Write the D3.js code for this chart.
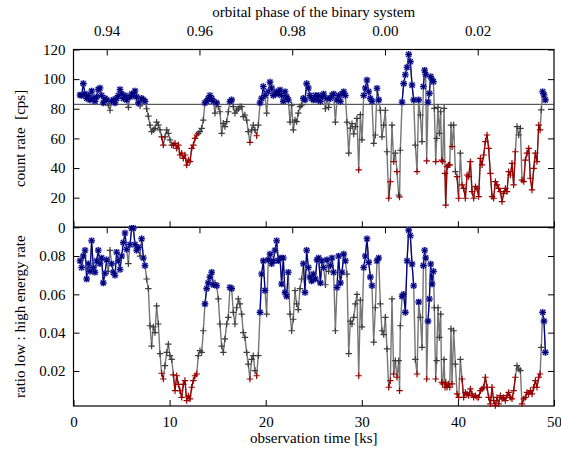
<!DOCTYPE html>
<html><head><meta charset="utf-8">
<script src="https://cdn.jsdelivr.net/npm/d3@7"></script>
<style>
body{margin:0;background:#fff}
svg{display:block;background:#fff}
text{font-family:"Liberation Serif","Times New Roman",serif;font-size:15px;fill:#000}
</style>
</head><body>
<svg id="c" width="561" height="452"></svg>
<script>
// ---- data (observation time [ks], count rate [cps], ratio low:high) ----
const times = [
0.68,0.85,1.02,1.20,1.37,1.54,1.72,1.89,2.06,2.24,2.41,2.58,2.76,2.93,3.10,3.28,3.45,3.62,3.80,3.97,4.14,4.32,4.49,4.67,4.84,5.01,5.19,5.36,5.53,5.71,5.88,6.05,6.23,6.40,6.57,6.75,6.92,7.09,7.27,7.44,
7.61,7.79,7.96,8.13,8.31,8.48,8.65,8.83,9.00,9.17,9.35,9.52,9.70,9.87,10.04,10.22,10.39,10.56,10.74,10.91,11.08,11.26,11.43,11.60,11.78,11.95,12.12,12.30,12.47,12.64,12.82,12.99,13.16,13.34,13.51,
13.68,13.86,14.03,14.20,14.38,14.55,14.72,14.90,15.07,15.24,15.42,15.59,15.76,15.94,16.11,16.28,16.46,16.63,16.80,16.98,17.15,17.32,17.50,17.67,17.84,18.02,18.19,18.36,18.54,18.71,18.88,19.06,19.23,19.41,
19.58,19.75,19.93,20.10,20.27,20.45,20.62,20.79,20.97,21.14,21.31,21.49,21.66,21.83,22.01,22.18,22.35,22.53,22.70,22.87,23.05,23.22,23.39,23.57,23.74,23.92,24.09,24.26,24.44,24.61,24.78,24.96,
25.17,25.34,25.51,25.69,25.86,26.03,26.21,26.38,26.55,26.73,26.90,27.07,27.25,27.42,27.59,27.77,27.94,28.12,28.29,28.46,
28.64,28.81,28.98,29.16,29.33,29.50,29.68,29.85,30.02,30.20,30.37,30.54,30.72,30.89,31.06,31.24,31.41,31.58,31.76,31.93,
32.10,32.28,32.45,32.62,32.80,32.97,33.14,33.32,33.49,33.66,33.84,33.93,34.01,34.19,34.36,34.53,34.71,34.88,35.05,35.23,
35.40,35.57,35.75,35.92,36.09,36.27,36.41,36.54,36.65,36.75,36.89,37.03,37.17,37.31,37.45,37.55,37.69,37.79,37.93,38.07,
38.21,38.31,38.42,38.56,38.66,38.73,38.87,39.01,39.15,39.28,39.39,39.56,39.74,39.91,40.08,40.26,40.43,40.60,40.78,40.95,
41.12,41.30,41.47,41.64,41.82,41.99,42.16,42.34,42.51,42.68,42.86,43.03,43.20,43.38,43.55,43.72,43.90,44.07,44.24,44.42,
44.59,44.76,44.94,45.11,45.28,45.46,45.63,45.80,45.98,46.15,46.33,46.50,46.67,46.85,47.02,47.19,47.37,47.54,47.71,47.89,
48.06,48.23,48.41,48.55,48.68,48.82,48.96,49.10
];
const rates = [
89.3,89,97,90,87,89,86,92,87,85,88,93,94,89,84,87,86,82.5,79,85,86,84,87,89,93,90,87,89,86,81,88,90,89,92,88,84,82,87,86,85,
80,75,69,64.6,65.7,66.8,71,69,65.7,61,55.5,61,65.7,63.4,59,55.5,55.5,56.7,53.3,55.5,48.8,50,46.5,48.8,42,45.4,44.3,53.3,55.5,60,62.3,63.4,64.6,66.8,72.4,
84,85,87,89,87,85,77,84,81.4,78,63.4,70.2,68,71.3,78,84.8,86,81.4,77,79,80,81.4,81.4,74.7,75.8,72.4,64.6,57.3,65.7,69,65.7,61.8,69,84,
87,95,89,77,91.5,98,94,89,90,91.5,90,92.7,89,85,91.5,88,86,71,82.5,65.7,72.4,71.3,77,81.4,82.5,87,86,97,94,89,87,86,
89,86,89,85,88,90,80,87,81,87,89,90,71,86,89,85,90,91.5,89,71,
50,67,70,63,68,73.5,38.7,76,59,89,94,99.4,91.5,87,85,56.7,62.3,93.8,86,79,
61,69,79,51,19.6,30.8,69,44.3,50,37.6,21.8,20.5,52,84.4,97,103,108,116.7,111.8,96,
86,55.5,37.6,86,75.8,57.8,95,106,103,44.8,84.4,90.4,101.7,99.4,98.3,80.3,44.3,60,81,63.4,
78,45.4,44.3,80.3,36.4,15,41,42,42.1,69,54.4,69,37.6,34.2,19.6,50,28.6,26.3,19.6,35.3,
34.2,44.3,24.1,19.6,27.4,26.3,20.7,46.5,42.1,48.8,57.8,62.3,53.3,36.4,20.7,19.6,30.8,28.6,26.3,24.1,
17.3,22.9,26.3,24.1,37.6,35.3,43.2,28.6,51,68,62.3,66.8,31.9,30.8,45.4,50,53.3,33.1,25.2,39.8,
50,44.3,69,65.7,79.2,91.5,89.3,86
];
const ratios = [
0.0775,0.074,0.080,0.083,0.068,0.076,0.072,0.088,0.074,0.0715,0.0775,0.083,0.076,0.079,0.066,0.071,0.078,0.072,0.083,0.076,0.0715,0.070,0.082,0.0775,0.073,0.080,0.087,0.092,0.0835,0.076,0.086,0.0945,0.0945,0.086,0.083,0.0845,0.080,0.089,0.079,0.075,
0.068,0.063,0.0436,0.033,0.043,0.040,0.054,0.0445,0.029,0.0188,0.0158,0.0228,0.0297,0.034,0.028,0.026,0.018,0.0097,0.0175,0.013,0.0097,0.0062,0.013,0.015,0.0045,0.007,0.0054,0.0115,0.015,0.0175,0.0184,0.028,0.0306,0.0297,0.041,
0.055,0.063,0.066,0.069,0.0715,0.065,0.066,0.0645,0.0576,0.0445,0.033,0.0297,0.0367,0.0445,0.048,0.0636,0.063,0.0506,0.0445,0.053,0.0576,0.055,0.0497,0.040,0.0375,0.0297,0.0236,0.0158,0.026,0.028,0.0202,0.0175,0.028,0.0506,
0.0706,0.0775,0.062,0.0497,0.078,0.081,0.076,0.0775,0.083,0.088,0.0775,0.079,0.0654,0.079,0.061,0.059,0.0715,0.0497,0.041,0.047,0.062,0.055,0.052,0.063,0.068,0.076,0.061,0.083,0.074,0.069,0.067,0.0706,
0.068,0.078,0.079,0.066,0.0775,0.074,0.065,0.078,0.072,0.075,0.079,0.0715,0.041,0.0636,0.080,0.066,0.0715,0.081,0.0775,0.0706,
0.029,0.046,0.0445,0.048,0.055,0.060,0.0175,0.057,0.043,0.074,0.080,0.089,0.0767,0.069,0.0645,0.035,0.053,0.0775,0.079,0.055,
0.041,0.039,0.048,0.0315,0.0115,0.015,0.0576,0.0184,0.0254,0.0167,0.0254,0.0097,0.0436,0.059,0.060,0.0506,0.0775,0.0935,0.0906,0.0758,
0.0645,0.026,0.0184,0.056,0.048,0.0323,0.075,0.083,0.079,0.0158,0.046,0.0576,0.0758,0.0654,0.072,0.053,0.0158,0.0254,0.053,0.0375,
0.0497,0.0141,0.0132,0.026,0.0115,0.0141,0.0115,0.0132,0.0115,0.042,0.0132,0.041,0.0236,0.008,0.0062,0.026,0.0158,0.0062,0.0088,0.008,
0.0071,0.0106,0.008,0.0062,0.0071,0.0062,0.0062,0.0097,0.0106,0.0115,0.0167,0.0115,0.0062,0.0028,0.0115,0.0045,0.0019,0.0062,0.0028,0.0071,
0.0054,0.0062,0.0045,0.0071,0.0088,0.0062,0.0054,0.0097,0.0167,0.0228,0.021,0.0202,0.0028,0.0054,0.0062,0.0088,0.008,0.0097,0.008,0.0115,
0.0149,0.0115,0.0167,0.0184,0.0323,0.0506,0.046,0.0297
];
const timeTicks = [0,10,20,30,40,50];
const rateTicks = [0,20,40,60,80,100,120];
const ratioTicks = [0.02,0.04,0.06,0.08];
const phaseTicks = [0.94,0.96,0.98,1.00,1.02];
const phaseLabels = ["0.94","0.96","0.98","0.00","0.02"];
const phaseAtEnds = [0.93284,1.03645];   // orbital phase at 0 ks and 50 ks
const rateLevel = 83;      // horizontal reference line / high state
const ratioLow = 0.019;    // low-ratio state

// ---- layout ----
const L=73.5, R=554, T=49.5, M=227.3, B=406;
const svg = d3.select("#c");
const x  = d3.scaleLinear().domain([0,50]).range([L,R]);
const xp = d3.scaleLinear().domain(phaseAtEnds).range([L,R]);
const yR = d3.scaleLinear().domain([0,120]).range([M,T]);
const yQ = d3.scaleLinear().domain([0.0017,0.095]).range([B,M]);

const data = times.map((t,i)=>({t, r:rates[i], q:ratios[i],
  s: rates[i] >= rateLevel ? "hi" : (ratios[i] < ratioLow ? "lo" : "mid")}));

const col = {hi:"#00007a", lo:"#9a0000", mid:"#3c3c3c"};
const plus = "M-3.2,0H3.2M0,-3.2V3.2";
const star = "M-3.3,0H3.3M0,-3.3V3.3M-2.5,-2.5L2.5,2.5M-2.5,2.5L2.5,-2.5";

function axisStyle(g){
  g.select(".domain").remove();
  g.selectAll(".tick line").attr("stroke","#000").attr("stroke-width",1);
  g.attr("font-family",null).attr("font-size",null);
}

// frames
svg.append("rect").attr("x",L).attr("y",T).attr("width",R-L).attr("height",M-T)
  .attr("fill","none").attr("stroke","#000").attr("stroke-width",1.2);
svg.append("rect").attr("x",L).attr("y",M).attr("width",R-L).attr("height",B-M)
  .attr("fill","none").attr("stroke","#000").attr("stroke-width",1.2);

// top panel axes
svg.append("g").attr("transform",`translate(${L},0)`)
  .call(d3.axisLeft(yR).tickValues(rateTicks).tickSize(-6).tickPadding(8).tickFormat(d3.format("d"))).call(axisStyle);
svg.append("g").attr("transform",`translate(${R},0)`)
  .call(d3.axisRight(yR).tickValues(rateTicks).tickSize(-6).tickFormat("")).call(axisStyle);
svg.append("g").attr("transform",`translate(0,${M})`)
  .call(d3.axisBottom(x).tickValues(timeTicks).tickSize(-6).tickFormat("")).call(axisStyle);
svg.append("g").attr("transform",`translate(0,${T})`)
  .call(d3.axisTop(xp).tickValues(phaseTicks).tickSize(-6).tickPadding(13.5).tickFormat((d,i)=>phaseLabels[i])).call(axisStyle);

// bottom panel axes
svg.append("g").attr("transform",`translate(${L},0)`)
  .call(d3.axisLeft(yQ).tickValues(ratioTicks).tickSize(-6).tickPadding(8).tickFormat(d3.format(".2f"))).call(axisStyle);
svg.append("g").attr("transform",`translate(${R},0)`)
  .call(d3.axisRight(yQ).tickValues(ratioTicks).tickSize(-6).tickFormat("")).call(axisStyle);
svg.append("g").attr("transform",`translate(0,${M})`)
  .call(d3.axisTop(xp).tickValues(phaseTicks).tickSize(-6).tickFormat("")).call(axisStyle);
svg.append("g").attr("transform",`translate(0,${B})`)
  .call(d3.axisBottom(x).tickValues(timeTicks).tickSize(-6).tickPadding(10.5)).call(axisStyle);

// reference line
svg.append("line").attr("x1",L).attr("x2",R).attr("y1",yR(rateLevel)).attr("y2",yR(rateLevel))
  .attr("stroke","#333").attr("stroke-width",1);

function drawPanel(yf, key){
  const g = svg.append("g");
  const line = d3.line().x(d=>x(d.t)).y(d=>yf(d[key]));
  g.append("path").datum(data).attr("d",line).attr("fill","none")
    .attr("stroke","#767676").attr("stroke-width",1.4).attr("stroke-linejoin","round");
  ["lo","hi"].forEach(c=>{
    g.append("path").datum(data)
      .attr("d", d3.line().defined(d=>d.s===c).x(d=>x(d.t)).y(d=>yf(d[key])))
      .attr("fill","none").attr("stroke",c==="lo"?"#a00000":"#00008a").attr("stroke-width",1.2);
  });
  ["mid","lo"].forEach(c=>{
    g.selectAll(null).data(data.filter(d=>d.s===c)).join("path")
      .attr("transform",d=>`translate(${x(d.t)},${yf(d[key])})`)
      .attr("d",plus).attr("fill","none").attr("stroke",col[c]).attr("stroke-width",1.2);
  });
  const hi = data.filter(d=>d.s==="hi");
  g.selectAll(null).data(hi).join("path")
    .attr("transform",d=>`translate(${x(d.t)},${yf(d[key])})`)
    .attr("d",star).attr("fill","none").attr("stroke","#7f86e0").attr("stroke-width",2.8).attr("opacity",0.65);
  g.selectAll(null).data(hi).join("path")
    .attr("transform",d=>`translate(${x(d.t)},${yf(d[key])})`)
    .attr("d",star).attr("fill","none").attr("stroke",col.hi).attr("stroke-width",1.1);
}
drawPanel(yR,"r");
drawPanel(yQ,"q");

// titles
svg.append("text").attr("x",(L+R)/2).attr("y",17).attr("text-anchor","middle")
  .text("orbital phase of the binary system");
svg.append("text").attr("x",(L+R)/2).attr("y",443).attr("text-anchor","middle")
  .text("observation time [ks]");
svg.append("text").attr("transform",`translate(25,${(T+M)/2}) rotate(-90)`).attr("text-anchor","middle")
  .style("white-space","pre").text("count rate  [cps]");
svg.append("text").attr("transform",`translate(25,${(M+B)/2}) rotate(-90)`).attr("text-anchor","middle")
  .text("ratio low : high energy rate");
</script>
</body></html>
